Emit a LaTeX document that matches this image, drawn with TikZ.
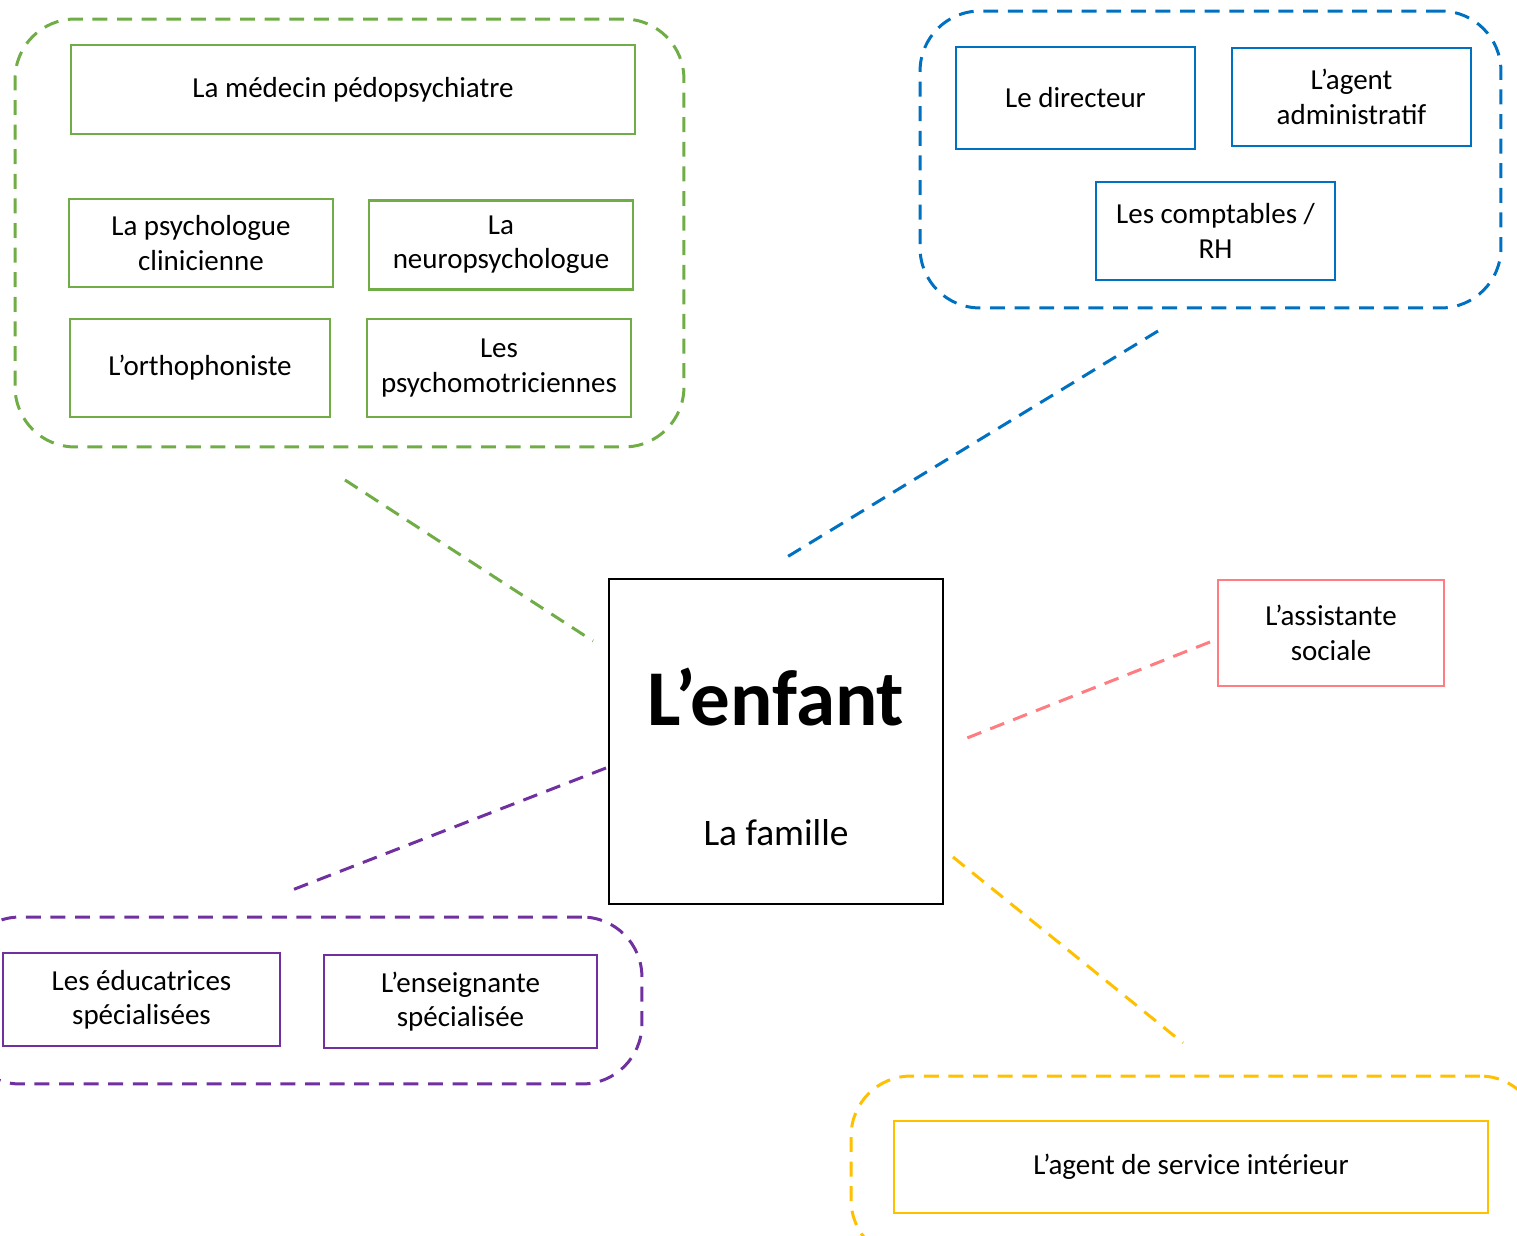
\documentclass[tikz,border=0pt]{standalone}
\usepackage{fontspec}
\setmainfont{Carlito}
\definecolor{vert}{HTML}{70AD47}
\definecolor{bleu}{HTML}{0070C0}
\definecolor{rose}{HTML}{FF7C80}
\definecolor{violet}{HTML}{7030A0}
\definecolor{jaune}{HTML}{FFC000}
\begin{document}
\begin{tikzpicture}[x=0.02cm,y=-0.02cm,
    role node/.style={draw,line width=1.2pt,align=center,inner sep=0pt,font=\fontsize{16.5}{19.5}\selectfont},
    group node/.style={draw,line width=1.7pt,dash pattern=on 8.5pt off 5.5pt,rounded corners=1.2cm,inner sep=0pt},
    link/.style={line width=1.7pt,dash pattern=on 8.5pt off 5.5pt}]
                \useasboundingbox (0,0) rectangle (1517,1236);
                \clip (0,0) rectangle (1517,1236);

                % equipe medicale
                \node[group node,vert,minimum width=13.38cm,minimum height=8.56cm] at (349.5,233) (gsoin) {};
                \node[role node,vert,minimum width=11.28cm,minimum height=1.78cm] at (353,89.5) (medecin) {\color{black}La médecin pédopsychiatre};
                \node[role node,vert,minimum width=5.28cm,minimum height=1.76cm] at (201,243) (psycho) {\color{black}La psychologue\\\color{black}clinicienne};
                \node[role node,vert,minimum width=5.28cm,minimum height=1.78cm] at (501,245) (neuro) {\color{black}La\\\color{black}neuropsychologue};
                \node[role node,vert,minimum width=5.2cm,minimum height=1.96cm] at (200,368) (ortho) {\color{black}L’orthophoniste};
                \node[role node,vert,minimum width=5.28cm,minimum height=1.96cm] at (499,368) (motri) {\color{black}Les\\\color{black}psychomotriciennes};

                % direction
                \node[group node,bleu,minimum width=11.62cm,minimum height=5.94cm] at (1210.5,159.5) (gdir) {};
                \node[role node,bleu,minimum width=4.78cm,minimum height=2.04cm] at (1075.5,98) (directeur) {\color{black}Le directeur};
                \node[role node,bleu,minimum width=4.78cm,minimum height=1.96cm] at (1351.5,97) (agent) {\color{black}L’agent\\\color{black}administratif};
                \node[role node,bleu,minimum width=4.78cm,minimum height=1.96cm] at (1215.5,231) (compta) {\color{black}Les comptables /\\\color{black}RH};

                % centre
                \node[draw,line width=1.5pt,minimum width=6.68cm,minimum height=6.5cm] at (776,741.5) (enfant) {};
                \node[font=\fontsize{45}{52}\selectfont\bfseries,inner sep=0pt] at (776,697) (titre) {L’enfant};
                \node[font=\fontsize{21.3}{25}\selectfont,inner sep=0pt] at (776,833) (famille) {La famille};

                \node[role node,rose,minimum width=4.52cm,minimum height=2.12cm] at (1331,633) (social) {\color{black}L’assistante\\\color{black}sociale};

                % educatif
                \node[group node,violet,minimum width=13.64cm,minimum height=3.34cm] at (301,1000.5) (gedu) {};
                \node[role node,violet,minimum width=5.54cm,minimum height=1.86cm] at (141.5,999.5) (educ) {\color{black}Les éducatrices\\\color{black}spécialisées};
                \node[role node,violet,minimum width=5.46cm,minimum height=1.86cm] at (460.5,1001.5) (ens) {\color{black}L’enseignante\\\color{black}spécialisée};

                % service
                \node[group node,jaune,minimum width=13.78cm,minimum height=3.68cm] at (1195.5,1168) (gserv) {};
                \node[role node,jaune,minimum width=11.88cm,minimum height=1.84cm] at (1191,1167) (asi) {\color{black}L’agent de service intérieur};

                % liens
                \coordinate (v1) at (345,480);   \coordinate (v2) at (593,641);
                \coordinate (b1) at (1158,331);  \coordinate (b2) at (787,557);
                \coordinate (r1) at (1210,642);  \coordinate (r2) at (962,740);
                \coordinate (p1) at (606,768);   \coordinate (p2) at (287,892);
                \coordinate (j1) at (953,857);   \coordinate (j2) at (1183,1043);
                \draw[link,vert] (v1) -- (v2);
                \draw[link,bleu] (b1) -- (b2);
                \draw[link,rose] (r1) -- (r2);
                \draw[link,violet] (p1) -- (p2);
                \draw[link,jaune] (j1) -- (j2);
            \end{tikzpicture}
\end{document}
